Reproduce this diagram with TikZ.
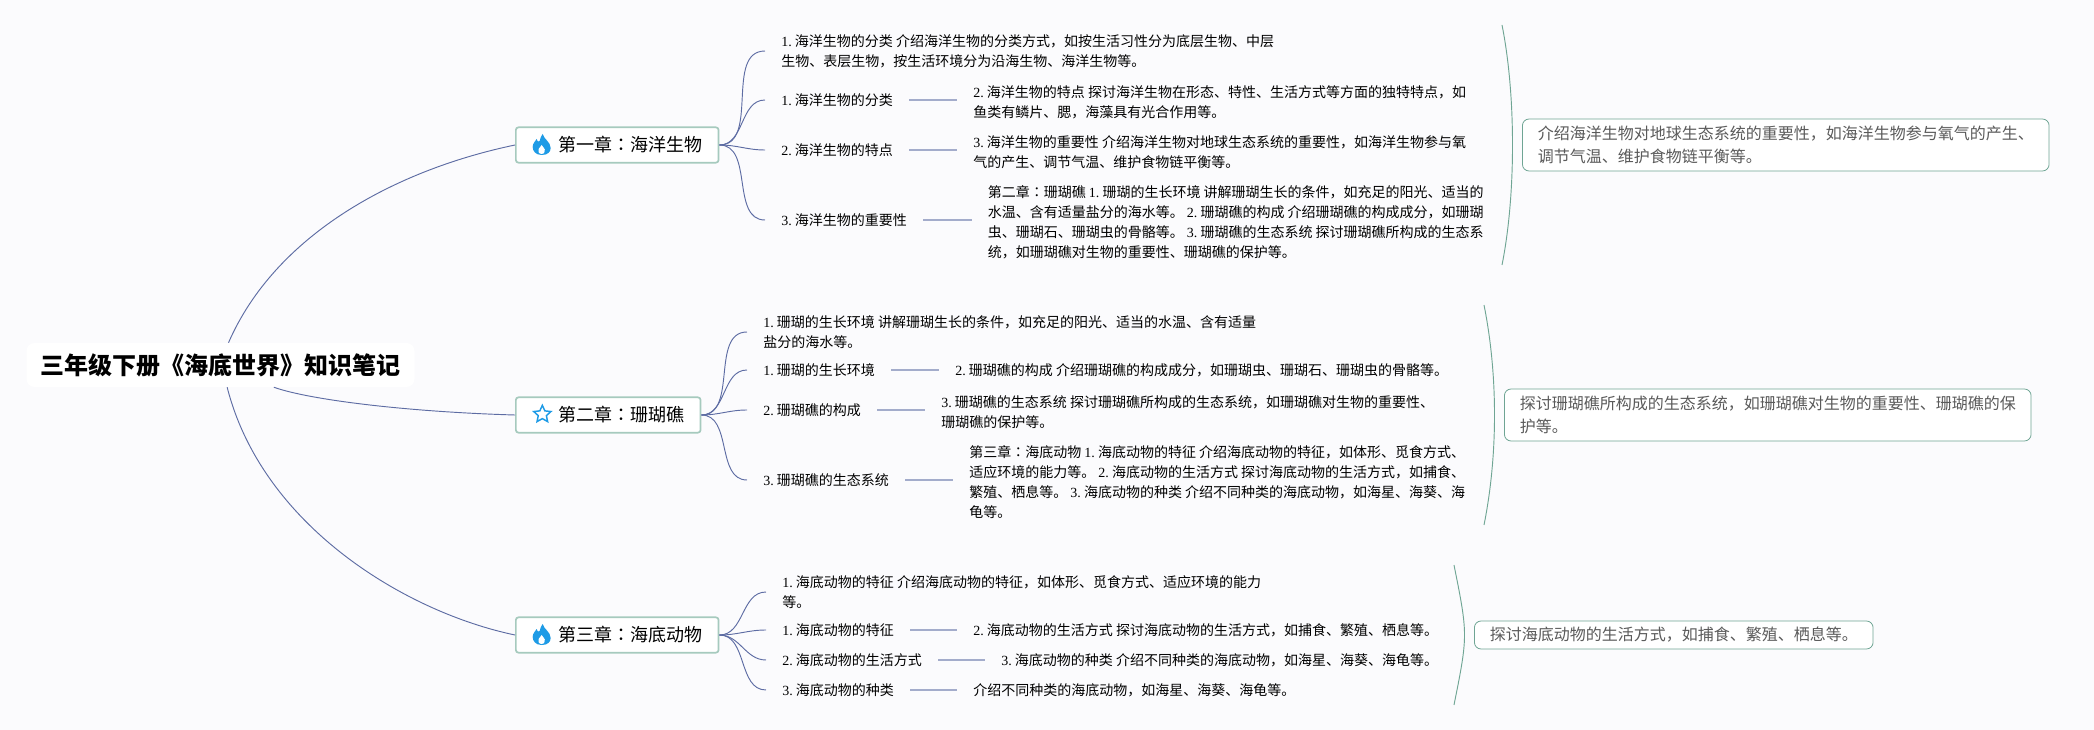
\documentclass[tikz,border=0pt]{standalone}
\usepackage{fontspec}
\usepackage{xcolor}
\usetikzlibrary{shapes.geometric}
\setmainfont{Liberation Serif}
\newfontfamily\cjk{Noto Sans CJK SC}
\newfontfamily\cjktc{Noto Sans CJK TC}
\newcommand{\nr}[1]{{\rmfamily #1.}\kern-.8pt\relax}
\newcommand{\cn}{{\cjktc ：}}
\definecolor{paper}{HTML}{FBFBFD}
\definecolor{twigblue}{HTML}{5D6CA3}
\definecolor{leadblue}{HTML}{A3ACCB}
\definecolor{framegreen}{HTML}{A6CABE}
\definecolor{bracegreen}{HTML}{6FA594}
\definecolor{iconblue}{HTML}{1E9BE6}
\definecolor{notegrey}{HTML}{5A5A5A}
\tikzset{
  rootbox/.style={fill=white,rounded corners=6pt,inner xsep=10.5pt,minimum height=33pt,
    font=\cjk\bfseries\fontsize{18}{22}\selectfont},
  chapter/.style={draw=framegreen,fill=white,line width=1.3pt,rounded corners=2pt,anchor=west,
    inner xsep=12pt,minimum height=26.5pt,font=\cjk\fontsize{13.5}{16}\selectfont},
  item/.style={anchor=west,inner xsep=12pt,inner ysep=0pt,align=left,
    font=\cjk\fontsize{10.5}{15}\selectfont},
  note/.style={draw=bracegreen,fill=white,line width=.6pt,rounded corners=5pt,anchor=west,
    inner xsep=11.5pt,inner ysep=0pt,align=left,text=notegrey,
    font=\cjk\fontsize{12}{17.5}\selectfont},
  stem/.style={draw=twigblue,line width=.7pt},
  twig/.style={draw=twigblue,line width=.7pt},
  leader/.style={draw=leadblue,line width=1.4pt},
  brace/.style={draw=bracegreen,line width=.7pt},
  starmark/.style={star,star points=5,star point ratio=2.1,draw=iconblue,line width=1.1pt,
    inner sep=0pt,minimum size=13.5pt},
  flame/.pic={
    \fill[iconblue] (0,10) .. controls (-6,10) and (-9,6) .. (-9,2)
      .. controls (-9,-2) and (-6,-4) .. (-5,-6) .. controls (-4,-3) and (-3,-3) .. (-2,-4)
      .. controls (-1,-7) and (-1,-9) .. (1,-11) .. controls (2,-6) and (9,-3) .. (9,3)
      .. controls (9,7) and (6,10) .. (0,10) -- cycle;
    \fill[white] (0,9) .. controls (-3,9) and (-4,6) .. (-3,4)
      .. controls (-2,2) and (-1,2) .. (0,0) .. controls (1,2) and (4,4) .. (3,6)
      .. controls (3,8) and (2,9) .. (0,9) -- cycle;
  }
}

\begin{document}
\begin{tikzpicture}[x=0.75pt,y=-0.75pt]

% Background
\fill[paper] (0,0) rectangle (2094,730);
\useasboundingbox (0,0) rectangle (2094,730);

% Root and chapters
\node[rootbox] (root) at (220.5,365) {三年级下册《海底世界》知识笔记};
\node[chapter,minimum width=149.5pt] (ch1) at (515,145) {\hspace*{20pt}第一章\cn 海洋生物};
\node[chapter,minimum width=136pt] (ch2) at (515,415) {\hspace*{20pt}第二章\cn 珊瑚礁};
\node[chapter,minimum width=149.5pt] (ch3) at (515,635) {\hspace*{20pt}第三章\cn 海底动物};

% Chapter icons
\pic at ([xshift=20pt]ch1.west) {flame};
\node[starmark] (star2) at ([xshift=20.5pt,yshift=.5pt]ch2.west) {};
\pic at ([xshift=20pt]ch3.west) {flame};

% Chapter one items
\node[item] (a1) at (765,51) {\nr{1} 海洋生物的分类 介绍海洋生物的分类方式，如按生活习性分为底层生物、中层\\生物、表层生物，按生活环境分为沿海生物、海洋生物等。};
\node[item] (a2) at (765,100) {\nr{1} 海洋生物的分类};
\node[item] (a3) at (765,150) {\nr{2} 海洋生物的特点};
\node[item] (a4) at (765,220) {\nr{3} 海洋生物的重要性};
\node[item] (b2) at (957,102) {\nr{2} 海洋生物的特点 探讨海洋生物在形态、特性、生活方式等方面的独特特点，如\\鱼类有鳞片、腮，海藻具有光合作用等。};
\node[item] (b3) at (957,152) {\nr{3} 海洋生物的重要性 介绍海洋生物对地球生态系统的重要性，如海洋生物参与氧\\气的产生、调节气温、维护食物链平衡等。};
\node[item] (b4) at (971.5,222) {第二章\cn 珊瑚礁 \nr{1} 珊瑚的生长环境 讲解珊瑚生长的条件，如充足的阳光、适当的\\水温、含有适量盐分的海水等。 \nr{2} 珊瑚礁的构成 介绍珊瑚礁的构成成分，如珊瑚\\虫、珊瑚石、珊瑚虫的骨骼等。 \nr{3} 珊瑚礁的生态系统 探讨珊瑚礁所构成的生态系\\统，如珊瑚礁对生物的重要性、珊瑚礁的保护等。};

% Chapter two items
\node[item] (c1) at (747,332) {\nr{1} 珊瑚的生长环境 讲解珊瑚生长的条件，如充足的阳光、适当的水温、含有适量\\盐分的海水等。};
\node[item] (c2) at (747,370) {\nr{1} 珊瑚的生长环境};
\node[item] (c3) at (747,410) {\nr{2} 珊瑚礁的构成};
\node[item] (c4) at (747,480) {\nr{3} 珊瑚礁的生态系统};
\node[item] (d2) at (939,370) {\nr{2} 珊瑚礁的构成 介绍珊瑚礁的构成成分，如珊瑚虫、珊瑚石、珊瑚虫的骨骼等。};
\node[item] (d3) at (925,412) {\nr{3} 珊瑚礁的生态系统 探讨珊瑚礁所构成的生态系统，如珊瑚礁对生物的重要性、\\珊瑚礁的保护等。};
\node[item] (d4) at (953,482) {第三章\cn 海底动物 \nr{1} 海底动物的特征 介绍海底动物的特征，如体形、觅食方式、\\适应环境的能力等。 \nr{2} 海底动物的生活方式 探讨海底动物的生活方式，如捕食、\\繁殖、栖息等。 \nr{3} 海底动物的种类 介绍不同种类的海底动物，如海星、海葵、海\\龟等。};

% Chapter three items
\node[item] (f1) at (766,592) {\nr{1} 海底动物的特征 介绍海底动物的特征，如体形、觅食方式、适应环境的能力\\等。};
\node[item] (f2) at (766,630) {\nr{1} 海底动物的特征};
\node[item] (f3) at (766,660) {\nr{2} 海底动物的生活方式};
\node[item] (f4) at (766,690) {\nr{3} 海底动物的种类};
\node[item] (g2) at (957,630) {\nr{2} 海底动物的生活方式 探讨海底动物的生活方式，如捕食、繁殖、栖息等。};
\node[item] (g3) at (985,660) {\nr{3} 海底动物的种类 介绍不同种类的海底动物，如海星、海葵、海龟等。};
\node[item] (g4) at (957,690) {介绍不同种类的海底动物，如海星、海葵、海龟等。};

% Summary boxes
\node[note,minimum height=39pt] (n1) at (1522,145) {介绍海洋生物对地球生态系统的重要性，如海洋生物参与氧气的产生、\\调节气温、维护食物链平衡等。};
\node[note,minimum height=39pt] (n2) at (1504,415) {探讨珊瑚礁所构成的生态系统，如珊瑚礁对生物的重要性、珊瑚礁的保\\护等。};
\node[note,minimum height=21pt] (n3) at (1474,635) {探讨海底动物的生活方式，如捕食、繁殖、栖息等。};

% Brace ends
\coordinate (t1) at (1502,25);
\coordinate (u1) at (1502,265);
\coordinate (t2) at (1484,305);
\coordinate (u2) at (1484,525);
\coordinate (t3) at (1454,565);
\coordinate (u3) at (1454,705);

% Root to chapters
\draw[stem] ([xshift=6pt]root.north) .. controls +(47,-108) and +(-120,25) .. (ch1.west);
\draw[stem] ([xshift=40pt]root.south) .. controls +(37,13) and +(-105,-3) .. (ch2.west);
\draw[stem] ([xshift=5pt]root.south) .. controls +(35,138) and +(-110,-23) .. (ch3.west);

% Chapter to items
\foreach \n in {a1,a2,a3,a4}
    \draw[twig] (ch1.east) to[out=0,in=180] (\n.west);
\foreach \n in {c1,c2,c3,c4}
    \draw[twig] (ch2.east) to[out=0,in=180] (\n.west);
\foreach \n in {f1,f2,f3,f4}
    \draw[twig] (ch3.east) to[out=0,in=180] (\n.west);

% Short leaders
\foreach \p/\q in {a2/b2,a3/b3,a4/b4,c2/d2,c3/d3,c4/d4,f2/g2,f3/g3,f4/g4}
    \draw[leader] (\p.east) -- (\p.east -| \q.west);

% Braces
\foreach \i in {1,2,3}
    \draw[brace] (t\i) .. controls +(14,70) and +(14,-70) .. (u\i);

\end{tikzpicture}
\end{document}
